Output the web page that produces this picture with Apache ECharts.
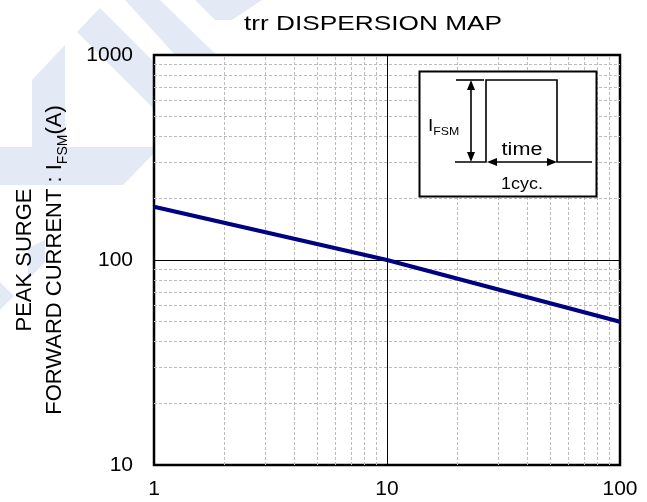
<!DOCTYPE html>
<html>
<head>
<meta charset="utf-8">
<script src="https://cdn.jsdelivr.net/npm/echarts@6/dist/echarts.min.js"></script>
<style>
html,body{margin:0;padding:0;background:#fff;}
#chart{width:647px;height:502px;}
</style>
</head>
<body>
<div id="chart"></div>
<script>
// ---- data ----
const titleText = 'trr DISPERSION MAP';
const timeCycles = [1, 10, 100];          // x (cycles)
const surgeCurrent = [182, 100, 50];      // y (A)
const xMinorTicks = [2,3,4,5,6,7,8,9,20,30,40,50,60,70,80,90];
const yMinorTicks = [20,30,40,50,60,70,80,90,200,300,400,500,600,700,800,900];
const xRange = [1, 100];
const yRange = [10, 1000];

const FONT = '"Liberation Sans", Arial, sans-serif';
const chart = echarts.init(document.getElementById('chart'), null, {renderer:'canvas'});

const dash = {type:[3,2], color:'#bcbcbc', width:1};
const minorLines = xMinorTicks.map(v => ({xAxis: v}))
  .concat(yMinorTicks.map(v => ({yAxis: v})));

const WM = '#e3e9f5';
function poly(points){ return {type:'polygon', z:-10, silent:true, shape:{points}, style:{fill:WM}}; }
function txt(text, x, y, size, sx, extra){
  return Object.assign({type:'text', z:101, x:x, y:y, scaleX:sx, silent:true,
    style:Object.assign({text:text, x:0, y:0, align:'center', verticalAlign:'middle',
      fontFamily:FONT, fontSize:size, fill:'#000'}, extra||{})});
}

const option = {
  backgroundColor:'#fff',
  animation:false,
  grid:{left:154, right:27, top:55, bottom:37, show:true, backgroundColor:'#fff',
        borderColor:'#000', borderWidth:2.5, containLabel:false, outerBoundsMode:'none'},
  xAxis:{
    type:'log', logBase:10, min:xRange[0], max:xRange[1],
    axisLine:{show:false}, axisTick:{show:false},
    splitLine:{show:true, lineStyle:{color:'#000', width:1}},
    axisLabel:{fontFamily:FONT, fontSize:21, color:'#000', margin:14, formatter:v=>String(v)}
  },
  yAxis:{
    type:'log', logBase:10, min:yRange[0], max:yRange[1],
    axisLine:{show:false}, axisTick:{show:false},
    splitLine:{show:true, lineStyle:{color:'#000', width:1}},
    axisLabel:{fontFamily:FONT, fontSize:21, color:'#000', margin:21, formatter:v=>String(v)},
    name:'PEAK SURGE\nFORWARD CURRENT : I{sub|FSM}(A)',
    nameLocation:'middle', nameRotate:90, nameGap:84,
    nameTextStyle:{fontFamily:FONT, fontSize:22, color:'#000', lineHeight:30, align:'center',
      rich:{sub:{fontFamily:FONT, fontSize:14, color:'#000', lineHeight:14, verticalAlign:'bottom'}}}
  },
  series:[{
    type:'line', data: timeCycles.map((x,i)=>[x, surgeCurrent[i]]),
    symbol:'none', lineStyle:{color:'#000080', width:4}, z:5,
    markLine:{silent:true, symbol:'none', label:{show:false}, lineStyle:dash, z:1,
      data:minorLines}
  }],
  graphic:[
    // watermark
    poly([[77,32],[100,8],[205,113],[182,137]]),
    poly([[125,0],[160,0],[242,80],[219,103]]),
    poly([[195,0],[262,0],[232,20],[215,20]]),
    poly([[0,147],[32,147],[32,80],[65,45],[65,147],[160,147],[123,185],[0,185]]),
    poly([[0,282],[14,296],[0,310]]),
    poly([[28,248],[45,240],[45,262],[28,280]]),
    // title
    txt(titleText, 373, 24, 21, 1.25),
    // inset
    {type:'rect', z:100, shape:{x:419.5, y:71.5, width:177, height:125}, style:{fill:'#fff', stroke:'#000', lineWidth:2}},
    {type:'polyline', z:101, shape:{points:[[455,162],[486,162],[486,80],[557,80],[557,162],[592,162]]}, style:{stroke:'#000', lineWidth:1.6, fill:null}},
    {type:'line', z:101, shape:{x1:456, y1:80, x2:484, y2:80}, style:{stroke:'#000', lineWidth:1.6}},
    {type:'line', z:101, shape:{x1:471, y1:88, x2:471, y2:154}, style:{stroke:'#000', lineWidth:1.6}},
    {type:'polygon', z:101, shape:{points:[[471,80],[467,90],[475,90]]}, style:{fill:'#000'}},
    {type:'polygon', z:101, shape:{points:[[471,162],[467,152],[475,152]]}, style:{fill:'#000'}},
    {type:'line', z:101, shape:{x1:494, y1:162, x2:550, y2:162}, style:{stroke:'#000', lineWidth:1.6}},
    {type:'polygon', z:101, shape:{points:[[487,162],[497,158],[497,166]]}, style:{fill:'#000'}},
    {type:'polygon', z:101, shape:{points:[[557,162],[547,158],[547,166]]}, style:{fill:'#000'}},
    txt('time', 522, 150, 18, 1.2),
    txt('1cyc.', 522, 185, 16, 1.12),
    txt('{a|I}{b|FSM}', 428, 126, 16, 1.12, {align:'left', text:'{a|I}{b|FSM}',
      rich:{a:{fontFamily:FONT, fontSize:17, fill:'#000', lineHeight:22},
            b:{fontFamily:FONT, fontSize:11, fill:'#000', lineHeight:11, verticalAlign:'bottom'}}})
  ]
};
chart.setOption(option);
</script>
</body>
</html>
